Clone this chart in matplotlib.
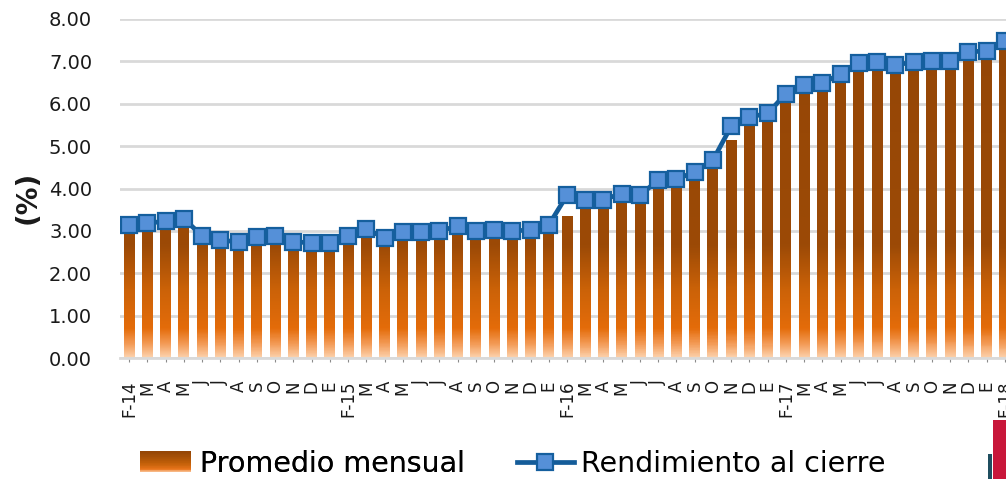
import numpy as np
import matplotlib
matplotlib.use('Agg')
import matplotlib.pyplot as plt
from matplotlib.colors import LinearSegmentedColormap, Normalize
from matplotlib.legend_handler import HandlerBase
from matplotlib.lines import Line2D
from matplotlib.patches import Rectangle

# etiquetas mensuales, feb-2014 a feb-2018
MESES = ['F-14', 'M', 'A', 'M', 'J', 'J', 'A', 'S', 'O', 'N', 'D', 'E',
         'F-15', 'M', 'A', 'M', 'J', 'J', 'A', 'S', 'O', 'N', 'D', 'E',
         'F-16', 'M', 'A', 'M', 'J', 'J', 'A', 'S', 'O', 'N', 'D', 'E',
         'F-17', 'M', 'A', 'M', 'J', 'J', 'A', 'S', 'O', 'N', 'D', 'E',
         'F-18']

PROMEDIO = [2.98, 3.00, 3.07, 3.11, 2.71, 2.60, 2.57, 2.67, 2.71, 2.57, 2.53, 2.53,
            2.71, 2.86, 2.67, 2.80, 2.80, 2.83, 2.95, 2.83, 2.86, 2.85, 2.86, 2.96,
            3.35, 3.58, 3.58, 3.73, 3.68, 4.03, 4.05, 4.22, 4.48, 5.14, 5.50, 5.61,
            6.05, 6.26, 6.32, 6.54, 6.79, 6.83, 6.73, 6.83, 6.85, 6.83, 7.04, 7.07,
            7.30]

CIERRE = [3.14, 3.18, 3.23, 3.29, 2.88, 2.78, 2.74, 2.85, 2.88, 2.74, 2.72, 2.72,
          2.88, 3.04, 2.84, 2.98, 2.97, 3.00, 3.11, 3.00, 3.02, 3.00, 3.02, 3.14,
          3.84, 3.74, 3.74, 3.88, 3.84, 4.20, 4.22, 4.39, 4.67, 5.47, 5.69, 5.77,
          6.24, 6.44, 6.48, 6.71, 6.97, 6.99, 6.91, 6.99, 7.01, 7.00, 7.22, 7.25,
          7.48]

YMAX = 8.0

naranja = LinearSegmentedColormap.from_list(
    'naranja', [(0.0, '#fcd0aa'), (0.04, '#f39a55'), (0.085, '#e46c0a'),
                (0.2, '#cb6208'), (0.33, '#9c4a06'), (1.0, '#944606')])

naranja_leyenda = LinearSegmentedColormap.from_list(
    'naranja_leyenda', [(0.0, '#fbc9a0'), (0.15, '#e8741a'),
                        (0.45, '#c05e08'), (1.0, '#944606')])


class HandlerDegradado(HandlerBase):
    # rectangulo de leyenda relleno con franjas de color
    def create_artists(self, legend, orig_handle, xdescent, ydescent,
                       width, height, fontsize, trans):
        n = 30
        arts = []
        for i in range(n):
            r = Rectangle((-xdescent, -ydescent + height * i / n), width,
                          height / n + 0.3, facecolor=naranja_leyenda(i / (n - 1)),
                          edgecolor='none', transform=trans)
            arts.append(r)
        return arts


W, H = 1006, 479
fig = plt.figure(figsize=(W / 100, H / 100), dpi=100)
ax = fig.add_axes([120 / W, (H - 358) / H, 894 / W, 339 / H])

x = np.arange(len(MESES))
barras = ax.bar(x, PROMEDIO, width=0.6, facecolor='none', edgecolor='none')
norm = Normalize(0, YMAX)
for b in barras:
    x0, w, h = b.get_x(), b.get_width(), b.get_height()
    grad = np.linspace(0, h, 200).reshape(-1, 1)
    ax.imshow(grad, extent=[x0, x0 + w, 0, h], origin='lower', aspect='auto',
              cmap=naranja, norm=norm, interpolation='bilinear', zorder=2)

ax.plot(x, CIERRE, color='#145c99', lw=3.4, marker='s', ms=11,
        mfc='#5590d8', mec='#155f9e', mew=1.6, zorder=4)

ax.set_xlim(-0.5, len(MESES) - 0.5)
ax.set_ylim(0, YMAX)
ax.set_yticks(np.arange(0, 9, 1))
ax.set_yticklabels(['%.2f' % v for v in np.arange(0, 9, 1)])
ax.set_xticks(x)
ax.set_xticklabels(MESES, rotation=90, fontsize=12)
ax.tick_params(axis='y', length=0, pad=20, labelsize=14, labelcolor='#1a1a1a')
ax.tick_params(axis='x', length=3, color='#8c8c8c', pad=13, labelcolor='#1a1a1a')
ax.yaxis.grid(True, color='#d9d9d9', lw=2)
ax.set_axisbelow(True)
for s in ['top', 'right', 'left']:
    ax.spines[s].set_visible(False)
ax.spines['bottom'].set_color('#d9d9d9')
ax.spines['bottom'].set_linewidth(2)

fig.text(28 / W, (H - 197) / H, '(%)', rotation=90, fontsize=20,
         fontweight='bold', ha='center', va='center', color='#1a1a1a')

# leyenda en dos piezas para fijar la posicion de cada entrada
ley1 = fig.legend(handles=[Rectangle((0, 0), 1, 1)], labels=['Promedio mensual'],
                  handler_map={Rectangle: HandlerDegradado()},
                  loc='center left', bbox_to_anchor=(140 / W, (H - 464) / H),
                  frameon=False, fontsize=20.5, borderpad=0, borderaxespad=0,
                  handlelength=1.8, handleheight=0.75, handletextpad=0.3)
fig.add_artist(ley1)
linea = Line2D([], [], color='#145c99', lw=3.4, marker='s', ms=11,
               mfc='#5590d8', mec='#155f9e', mew=1.6)
fig.legend(handles=[linea], labels=['Rendimiento al cierre'],
           loc='center left', bbox_to_anchor=(517 / W, (H - 464) / H),
           frameon=False, fontsize=20.5, borderpad=0, borderaxespad=0,
           handlelength=2.0, handletextpad=0.25)

# logo recortado en la esquina
fig.patches.append(Rectangle((993 / W, 0), 13 / W, 59 / H, facecolor='#c8163a',
                             edgecolor='none', transform=fig.transFigure))
fig.patches.append(Rectangle((988 / W, 0), 4 / W, 25 / H, facecolor='#1f4e5f',
                             edgecolor='none', transform=fig.transFigure))

fig.savefig('out.png', dpi=100)
